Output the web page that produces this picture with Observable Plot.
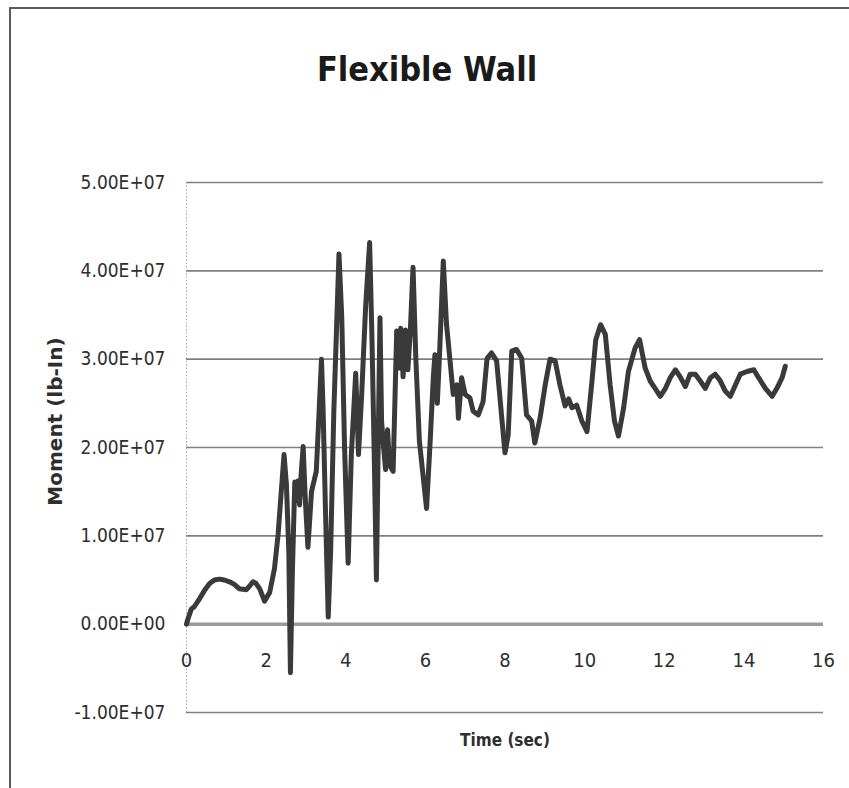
<!DOCTYPE html>
<html>
<head>
<meta charset="utf-8">
<script src="https://cdn.jsdelivr.net/npm/d3@7"></script>
<script src="https://cdn.jsdelivr.net/npm/@observablehq/plot@0.6"></script>
<style>
  body { margin: 0; background: #fff; }
  #chart { position: relative; width: 849px; height: 788px; overflow: hidden; background: #fff; }
  #frame { position: absolute; left: 9px; top: 7px; width: 860px; height: 800px;
           border-top: 2px solid #5a5a5a; border-left: 2px solid #5a5a5a; box-sizing: border-box; }
  #chart svg { position: absolute; left: 0; top: 0; }
</style>
</head>
<body>
<div id="chart"><div id="frame"></div></div>
<script>
// Bending moment time history of the flexible wall (time in s, moment in 1e7 lb-in)
const times = [
  0.00, 0.03, 0.12, 0.20, 0.33, 0.45, 0.58, 0.70, 0.83, 0.95,
  1.08, 1.20, 1.33, 1.50, 1.60, 1.67, 1.75, 1.84, 1.96, 2.09,
  2.21, 2.30, 2.38, 2.45, 2.51, 2.57, 2.61, 2.66, 2.72, 2.76,
  2.80, 2.84, 2.88, 2.93, 2.98, 3.05, 3.14, 3.26, 3.33, 3.39,
  3.43, 3.49, 3.56, 3.62, 3.70, 3.83, 3.90, 3.97, 4.06, 4.14,
  4.25, 4.32, 4.40, 4.50, 4.60, 4.66, 4.72, 4.77, 4.82, 4.86,
  4.90, 4.95, 5.00, 5.05, 5.10, 5.19, 5.28, 5.33, 5.38, 5.44,
  5.50, 5.56, 5.62, 5.69, 5.76, 5.85, 6.03, 6.12, 6.20, 6.24,
  6.30, 6.36, 6.45, 6.53, 6.62, 6.70, 6.79, 6.83, 6.91, 7.00,
  7.12, 7.20, 7.33, 7.45, 7.55, 7.66, 7.79, 7.92, 8.00, 8.08,
  8.17, 8.29, 8.42, 8.54, 8.67, 8.75, 8.88, 9.01, 9.13, 9.26,
  9.38, 9.51, 9.60, 9.68, 9.80, 9.93, 10.06, 10.18, 10.28, 10.40,
  10.52, 10.64, 10.75, 10.85, 10.98, 11.10, 11.27, 11.38, 11.52, 11.65,
  11.77, 11.90, 12.03, 12.15, 12.28, 12.40, 12.53, 12.65, 12.78, 12.91,
  13.03, 13.16, 13.28, 13.40, 13.53, 13.66, 13.79, 13.91, 14.08, 14.25,
  14.37, 14.54, 14.71, 14.83, 14.96, 15.04
];
const moments = [
  0.00, 0.05, 0.17, 0.20, 0.29, 0.38, 0.46, 0.50, 0.51, 0.50,
  0.48, 0.45, 0.40, 0.39, 0.44, 0.48, 0.46, 0.40, 0.26, 0.36,
  0.63, 1.01, 1.50, 1.92, 1.58, 0.82, -0.55, 0.60, 1.61, 1.40,
  1.62, 1.35, 1.70, 2.01, 1.45, 0.87, 1.50, 1.73, 2.40, 3.00,
  2.45, 1.30, 0.08, 0.82, 2.40, 4.19, 3.47, 2.00, 0.69, 1.92,
  2.84, 1.92, 2.60, 3.60, 4.32, 3.20, 1.80, 0.50, 2.20, 3.47,
  2.30, 2.00, 1.75, 2.20, 1.80, 1.73, 3.32, 2.90, 3.35, 2.80,
  3.33, 2.88, 3.30, 4.04, 3.01, 2.07, 1.31, 2.07, 2.80, 3.05,
  2.50, 3.10, 4.11, 3.40, 2.98, 2.60, 2.71, 2.33, 2.79, 2.60,
  2.56, 2.41, 2.37, 2.52, 3.01, 3.07, 2.98, 2.33, 1.94, 2.14,
  3.09, 3.11, 3.01, 2.37, 2.30, 2.05, 2.33, 2.71, 3.00, 2.98,
  2.71, 2.47, 2.55, 2.45, 2.48, 2.30, 2.18, 2.73, 3.22, 3.39,
  3.28, 2.71, 2.30, 2.13, 2.45, 2.86, 3.13, 3.22, 2.90, 2.75,
  2.67, 2.58, 2.67, 2.79, 2.88, 2.80, 2.69, 2.83, 2.83, 2.75,
  2.67, 2.79, 2.83, 2.76, 2.64, 2.58, 2.71, 2.83, 2.86, 2.88,
  2.79, 2.67, 2.58, 2.67, 2.79, 2.92
];

const xTicks = [0, 2, 4, 6, 8, 10, 12, 14, 16];
const yTicks = [-1e7, 0, 1e7, 2e7, 3e7, 4e7, 5e7];
const yTickLabels = ["-1.00E+07", "0.00E+00", "1.00E+07", "2.00E+07", "3.00E+07", "4.00E+07", "5.00E+07"];

const series = times.map((t, i) => ({t, m: moments[i] * 1e7}));

const condensed = "'DejaVu Sans Condensed', 'Liberation Sans', sans-serif";

const chart = Plot.plot({
  width: 849,
  height: 788,
  marginLeft: 186,
  marginRight: 26,
  marginTop: 182,
  marginBottom: 76,
  x: {domain: [0, 16], axis: null},
  y: {domain: [-1e7, 5e7]},
  style: {background: "transparent", color: "#2e2e2e", fontFamily: condensed},
  marks: [
    // horizontal gridlines
    Plot.ruleY(yTicks.filter((v) => v !== 0), {stroke: "#808080", strokeWidth: 1.6}),
    // vertical axis
    Plot.ruleX([0], {stroke: "#a8a8a8", strokeWidth: 1, strokeDasharray: "1.5,2"}),
    // horizontal axis at zero
    Plot.ruleY([0], {stroke: "#9a9a9a", strokeWidth: 3.5}),
    // moment history
    Plot.line(series, {x: "t", y: "m", stroke: "#3a3a3a", strokeWidth: 5, strokeLinejoin: "round", strokeLinecap: "round"}),
    // y tick labels
    Plot.axisY(yTicks, {
      tickSize: 0,
      tickPadding: 21,
      tickFormat: (d) => yTickLabels[yTicks.indexOf(d)],
      fontSize: 19,
      label: null
    }),
    // x tick labels, placed between the zero line and the lowest gridline
    Plot.text(xTicks, {x: (d) => d, frameAnchor: "bottom", lineAnchor: "middle", dy: -52, fontSize: 20, fill: "#2e2e2e"}),
    // axis titles
    Plot.text(["Time (sec)"], {frameAnchor: "bottom", lineAnchor: "middle", dy: 28, fontSize: 17, fontWeight: "bold", fill: "#2e2e2e"}),
    Plot.text(["Moment (lb-In)"], {
      frameAnchor: "left", textAnchor: "middle", lineAnchor: "middle", dx: -131, dy: -26, rotate: -90,
      fontSize: 20, fontWeight: "bold", fontFamily: "'DejaVu Sans', sans-serif", fill: "#2e2e2e"
    }),
    // chart title
    Plot.text(["Flexible Wall"], {
      frameAnchor: "top", lineAnchor: "middle", dx: -78, dy: -112,
      fontSize: 34, fontWeight: "bold", fill: "#1a1a1a"
    })
  ]
});

document.getElementById("chart").appendChild(chart);
</script>
</body>
</html>
